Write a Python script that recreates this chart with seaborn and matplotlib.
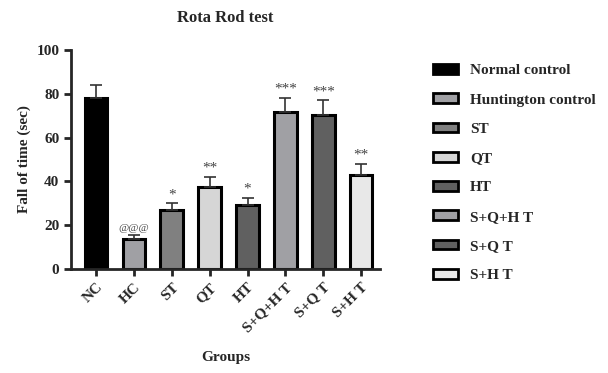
import numpy as np
import pandas as pd
import seaborn as sns
import matplotlib.pyplot as plt
from matplotlib.patches import Patch

groups = ['NC', 'HC', 'ST', 'QT', 'HT', 'S+Q+H T', 'S+Q T', 'S+H T']
legend_names = ['Normal control', 'Huntington control', 'ST', 'QT', 'HT',
                'S+Q+H T', 'S+Q T', 'S+H T']
fall_time = [78, 13.5, 27, 37.5, 29, 71.5, 70.5, 43]
sem = [6, 2, 3, 4.5, 3.5, 6.5, 6.5, 5]
signif = ['', '@@@', '*', '**', '*', '***', '***', '**']
colors = ['#000000', '#a0a0a4', '#808080', '#d6d6d6', '#606060',
          '#a0a0a4', '#606060', '#e8e8e8']

sns.set_style('ticks')
plt.rcParams['font.family'] = ['Liberation Serif', 'DejaVu Serif']
plt.rcParams['font.weight'] = 'bold'

df = pd.DataFrame({'Groups': groups, 'Fall of time (sec)': fall_time})

fig = plt.figure(figsize=(6.08, 3.73), dpi=100)
ax = fig.add_axes([0.117, 0.279, 0.508, 0.587])

sns.barplot(data=df, x='Groups', y='Fall of time (sec)', hue='Groups',
            palette=colors, dodge=False, legend=False, width=0.6,
            edgecolor='black', linewidth=2.2, ax=ax)
ax.errorbar(range(len(groups)), fall_time, yerr=[np.zeros(len(groups)), sem],
            fmt='none', ecolor='#333333', elinewidth=1.2, capsize=4, capthick=1.2,
            zorder=1)

# significance marks above the error bars
for i, s in enumerate(signif):
    if s:
        fs = 8 if s.startswith('@') else 11
        ax.text(i, fall_time[i] + sem[i] + 1, s, ha='center', va='bottom',
                fontsize=fs, color='#444444', fontweight='normal')

ax.set_ylim(0, 100)
ax.set_xlim(-0.66, len(groups) - 0.5)
ax.set_yticks([0, 20, 40, 60, 80, 100])
ax.set_xticklabels(groups, rotation=45, ha='right', rotation_mode='anchor',
                   fontsize=11, fontweight='bold')
for lab in ax.get_yticklabels():
    lab.set_fontsize(11)
    lab.set_fontweight('bold')
ax.tick_params(width=2, length=5)
for sp in ['left', 'bottom']:
    ax.spines[sp].set_linewidth(2)
sns.despine(ax=ax)

ax.set_xlabel('Groups', fontsize=11, fontweight='bold', labelpad=12)
ax.set_ylabel('Fall of time (sec)', fontsize=11, fontweight='bold')
ax.set_title('Rota Rod test', fontsize=12, fontweight='bold', pad=20)

handles = [Patch(facecolor=c, edgecolor='black', linewidth=2) for c in colors]
fig.legend(handles, legend_names, loc='upper left', bbox_to_anchor=(0.69, 0.865),
           frameon=False, handlelength=1.6, handleheight=0.6,
           labelspacing=1.05, prop={'weight': 'bold', 'size': 11})

fig.savefig('out.png', dpi=100)
